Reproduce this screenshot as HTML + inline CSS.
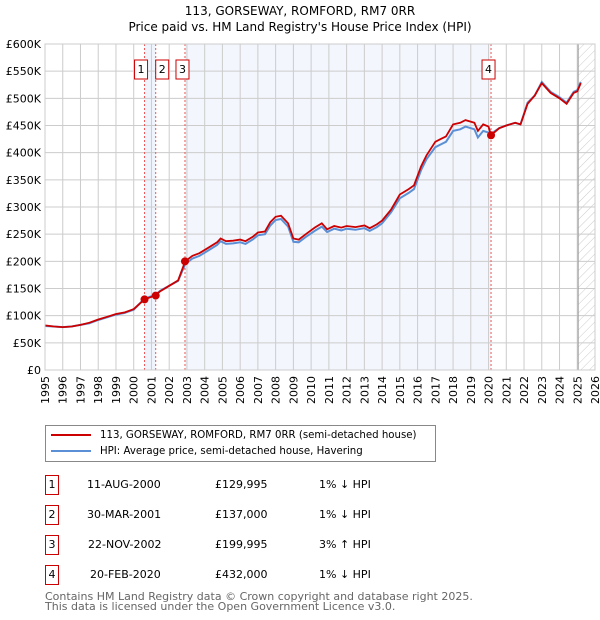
<!DOCTYPE html>
<html><head><meta charset="utf-8"><style>
body{margin:0;background:#fff;font-family:"Liberation Sans","DejaVu Sans",sans-serif;}
#wrap{position:relative;width:600px;height:620px;overflow:hidden;}
svg text{font-family:"DejaVu Sans","Liberation Sans",sans-serif;}
.row{position:absolute;left:0;width:600px;height:20px;font-size:11px;font-family:"DejaVu Sans","Liberation Sans",sans-serif;}
.row span{position:absolute;top:3px;}
.nb{position:absolute;left:45px;top:0;width:12px;height:18px;border:1px solid #c00;text-align:center;line-height:18px;}
</style></head><body><div id="wrap">
<svg id="chart" width="600" height="420"></svg>
<div style="position:absolute;left:45px;top:425px;width:389px;height:35px;border:1px solid #888;font-family:'DejaVu Sans','Liberation Sans',sans-serif;font-size:10.2px;white-space:nowrap;">
 <div style="position:absolute;left:5px;top:4px;"><span style="display:inline-block;width:40px;height:2px;background:#c00;vertical-align:middle;margin-right:9px;"></span>113, GORSEWAY, ROMFORD, RM7 0RR (semi-detached house)</div>
 <div style="position:absolute;left:5px;top:20px;"><span style="display:inline-block;width:40px;height:2px;background:#5b8fd6;vertical-align:middle;margin-right:9px;"></span>HPI: Average price, semi-detached house, Havering</div>
</div>
<div class="row" style="top:475px"><div class="nb">1</div><span style="left:87px">11-AUG-2000</span><span style="left:215px">£129,995</span><span style="left:319px">1% ↓ HPI</span></div>
<div class="row" style="top:505px"><div class="nb">2</div><span style="left:87px">30-MAR-2001</span><span style="left:215px">£137,000</span><span style="left:319px">1% ↓ HPI</span></div>
<div class="row" style="top:535px"><div class="nb">3</div><span style="left:88px">22-NOV-2002</span><span style="left:215px">£199,995</span><span style="left:319px">3% ↑ HPI</span></div>
<div class="row" style="top:565px"><div class="nb">4</div><span style="left:90px">20-FEB-2020</span><span style="left:215px">£432,000</span><span style="left:319px">1% ↓ HPI</span></div>
<div style="position:absolute;left:45px;top:592px;font-size:11px;color:#666;line-height:10px;font-family:'DejaVu Sans','Liberation Sans',sans-serif;white-space:nowrap;">Contains HM Land Registry data © Crown copyright and database right 2025.<br>This data is licensed under the Open Government Licence v3.0.</div>
</div>
<script>
const years=[1995,1995.5,1996,1996.5,1997,1997.5,1998,1998.5,1999,1999.5,2000,2000.6,2001.2,2001.5,2002,2002.5,2002.9,2003.3,2003.7,2004.2,2004.7,2004.9,2005.2,2005.6,2006,2006.3,2006.7,2007,2007.4,2007.7,2008,2008.3,2008.7,2009,2009.3,2009.7,2010.2,2010.6,2010.9,2011.3,2011.7,2012,2012.5,2013,2013.3,2013.7,2014,2014.5,2015,2015.5,2015.8,2016.2,2016.5,2017,2017.3,2017.6,2018,2018.4,2018.7,2019.2,2019.4,2019.7,2020,2020.14,2020.6,2021,2021.5,2021.8,2022.2,2022.6,2023,2023.5,2024,2024.4,2024.8,2025,2025.2];
const propertyValues=[82,80,79,80,83,87,93,98,103,106,112,130,137,145,155,165,200,210,215,225,235,242,237,238,240,237,245,253,255,272,282,284,270,242,240,250,262,270,259,265,262,265,263,266,261,268,275,295,323,333,340,375,395,420,425,430,452,455,460,455,440,452,448,432,445,450,455,452,490,505,528,510,500,490,510,513,528];
const hpiValues=[81,80,79,80,83,86,92,97,102,105,111,131,138,146,155,164,195,205,210,220,230,237,232,233,235,232,240,248,250,266,276,278,264,236,235,245,256,264,254,260,257,260,258,261,256,263,270,290,316,326,333,368,388,410,415,420,440,443,448,443,428,440,437,435,445,450,455,452,492,505,530,512,502,492,512,515,530];
const saleYears=[2000.61,2001.24,2002.89,2020.14];
const salePrices=[129.995,137,199.995,432];
const saleLabels=["1","2","3","4"];
const tickValues=[0,50,100,150,200,250,300,350,400,450,500,550,600];
const yearTicks=[];for(let y=1995;y<=2026;y++)yearTicks.push(y);

const X0=45,X1=595,Y0=370,Y1=44;
const sx=y=>X0+(y-1995)/31*(X1-X0);
const sy=v=>Y0-v/600*(Y0-Y1);
const svg=document.getElementById('chart');const NS='http://www.w3.org/2000/svg';
function mk(t,a,p){const e=document.createElementNS(NS,t);for(const k in a)e.setAttribute(k,a[k]);(p||svg).appendChild(e);return e;}
const title=mk('text',{x:300,y:15,'text-anchor':'middle','font-size':12});


title.innerHTML='<tspan x="300" dy="0">113, GORSEWAY, ROMFORD, RM7 0RR</tspan><tspan x="300" dy="16">Price paid vs. HM Land Registry\'s House Price Index (HPI)</tspan>';
const defs=mk('defs',{});
const pat=mk('pattern',{id:'hatch',width:6,height:6,patternUnits:'userSpaceOnUse',patternTransform:'rotate(45)'},defs);
mk('line',{x1:0,y1:0,x2:0,y2:6,stroke:'#ccc','stroke-width':1},pat);
const s1=mk('rect',{x:sx(saleYears[0]),y:Y1,width:sx(saleYears[1])-sx(saleYears[0]),height:Y0-Y1,fill:'#eef3fc'});


const s2=mk('rect',{x:sx(saleYears[2]),y:Y1,width:sx(saleYears[3])-sx(saleYears[2]),height:Y0-Y1,fill:'#f3f6fd'});


const h=mk('rect',{x:sx(2025.05),y:Y1,width:X1-sx(2025.05),height:Y0-Y1,fill:'url(#hatch)'});


yearTicks.forEach(y=>{const l=mk('line',{x1:sx(y),x2:sx(y),y1:Y1,y2:Y0,stroke:'#ccc','stroke-width':1});


const t=mk('text',{x:0,y:0,'font-size':11,'text-anchor':'end',transform:`translate(${sx(y)+4},${Y0+6}) rotate(-90)`});t.textContent=y;

});
tickValues.forEach(v=>{const l=mk('line',{x1:X0,x2:X1,y1:sy(v),y2:sy(v),stroke:'#ccc','stroke-width':1});


const t=mk('text',{x:X0-4,y:sy(v)+4,'font-size':11,'text-anchor':'end'});t.textContent=v===0?'£0':'£'+v+'K';

});
const vl=mk('line',{x1:sx(2025.05),x2:sx(2025.05),y1:Y1,y2:Y0,stroke:'#999','stroke-width':1});


saleYears.forEach((y,i)=>{const l=mk('line',{x1:sx(y),x2:sx(y),y1:Y1,y2:Y0,stroke:'#e55','stroke-width':1,'stroke-dasharray':'2,2'});

});
const pts=a=>years.map((y,i)=>sx(y).toFixed(1)+','+sy(a[i]).toFixed(1)).join(' ');
const hp=mk('polyline',{points:pts(hpiValues),fill:'none',stroke:'#5b8fd6','stroke-width':2});


const pp=mk('polyline',{points:pts(propertyValues),fill:'none',stroke:'#c00','stroke-width':1.8});


saleYears.forEach((y,i)=>{const c=mk('circle',{cx:sx(y),cy:sy(salePrices[i]),r:4,fill:'#c00'});


const bx=[sx(y)-10,sx(y),sx(y)-9,sx(y)-9][i];
const g=mk('g',{});


mk('rect',{x:bx,y:60,width:13,height:19,fill:'#fff',stroke:'#c00','stroke-width':1},g);
const t=mk('text',{x:bx+6.5,y:73,'font-size':11,'text-anchor':'middle'},g);t.textContent=saleLabels[i];});
const fr=mk('rect',{x:X0,y:Y1,width:X1-X0,height:Y0-Y1,fill:'none',stroke:'#ccc'});


</script></body></html>
